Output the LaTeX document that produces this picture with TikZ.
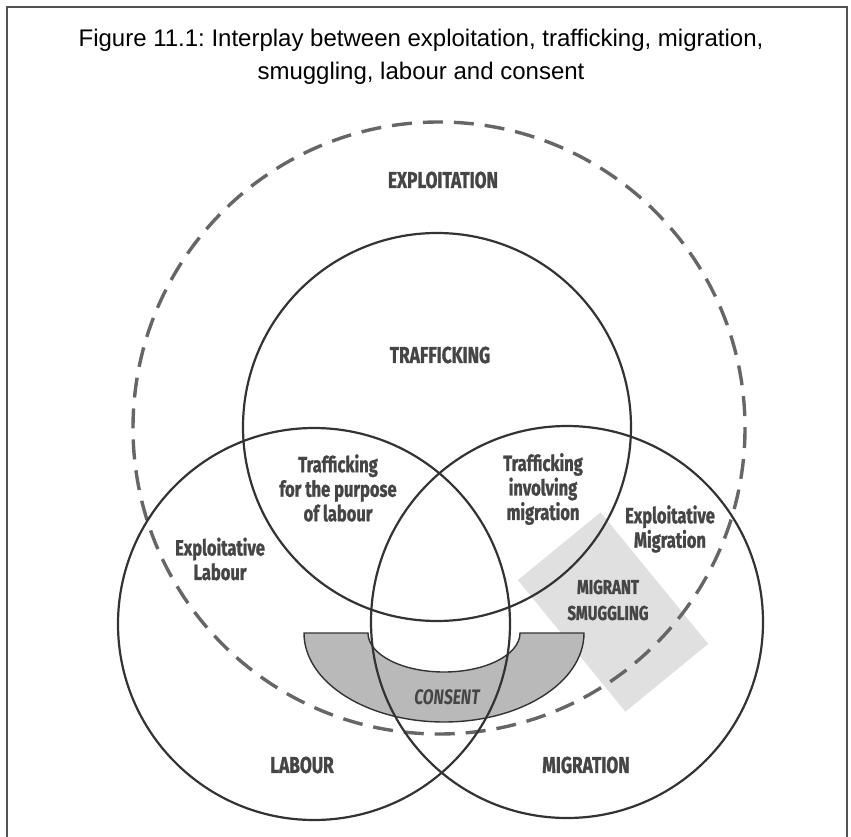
\documentclass[tikz,border=0pt]{standalone}
\usepackage{fontspec}
\setmainfont{Liberation Sans}
\newfontfamily\lblfont[FakeStretch=0.75, BoldFeatures={FakeBold=1.2}]{Fira Sans}
\definecolor{ink}{HTML}{333333}
\definecolor{dashgray}{HTML}{666666}
\definecolor{txtgray}{HTML}{454545}
\definecolor{consentfill}{HTML}{B9B9B9}
\definecolor{smugfill}{HTML}{E0E0E0}
\frenchspacing
\begin{document}
\begin{tikzpicture}[x=1pt, y=-1pt, ink,
	ring/.style={draw=ink, line width=2.2pt},
	outerring/.style={draw=dashgray, line width=3.4pt, dash pattern=on 20pt off 11pt},
	biglbl/.style={font=\lblfont\bfseries\fontsize{23}{26}\selectfont, text=txtgray},
	smalllbl/.style={font=\lblfont\bfseries\fontsize{22}{24.5}\selectfont, text=txtgray, align=center}]
	\useasboundingbox (0,0) rectangle (851,837);
	% frame, open at the bottom
	\draw[line width=1.5pt, ink!85] (7,837) -- (7,7) -- (847,7) -- (847,837);
	\node[font=\fontsize{24}{33}\selectfont, align=center, text=black] (title) at (421,57)
		{Figure 11.1: Interplay between exploitation, trafficking, migration,\\ smuggling, labour and consent};
	% shaded areas
	\fill[smugfill] (600.6,512.3) -- (708.2,643.9) -- (625.4,711.7) -- (517.8,580.1) -- cycle;
	\filldraw[fill=consentfill, draw=ink, line width=1.4pt] (584,633) arc (0:180:140 and 89)
		-- (368,633) arc (180:0:76 and 39) -- cycle;
	% the four sets
	\draw[outerring] (439,428) circle (306);
	\draw[ring] (437,427) circle (194);
	\draw[ring] (314,624) circle (196);
	\draw[ring] (567,622) circle (196);
	% labels
	\node[biglbl] (exploitation) at (443,180) {EXPLOITATION};
	\node[biglbl] (trafficking) at (440,355) {TRAFFICKING};
	\node[smalllbl] (traflabour) at (338,488) {Trafficking\\for the purpose\\of labour};
	\node[smalllbl] (trafmigr) at (543,489) {Trafficking\\involving\\migration};
	\node[smalllbl] (explabour) at (220,559) {Exploitative\\Labour};
	\node[smalllbl] (expmigr) at (670,529) {Exploitative\\Migration};
	\node[smalllbl, font=\lblfont\bfseries\fontsize{20}{26}\selectfont] (smuggling) at (608,600) {MIGRANT\\SMUGGLING};
	\node[biglbl, font=\lblfont\bfseries\itshape\fontsize{21}{24}\selectfont] (consent) at (447,697) {CONSENT};
	\node[biglbl] (labour) at (302,765) {LABOUR};
	\node[biglbl] (migration) at (586,765) {MIGRATION};
\end{tikzpicture}
\end{document}
